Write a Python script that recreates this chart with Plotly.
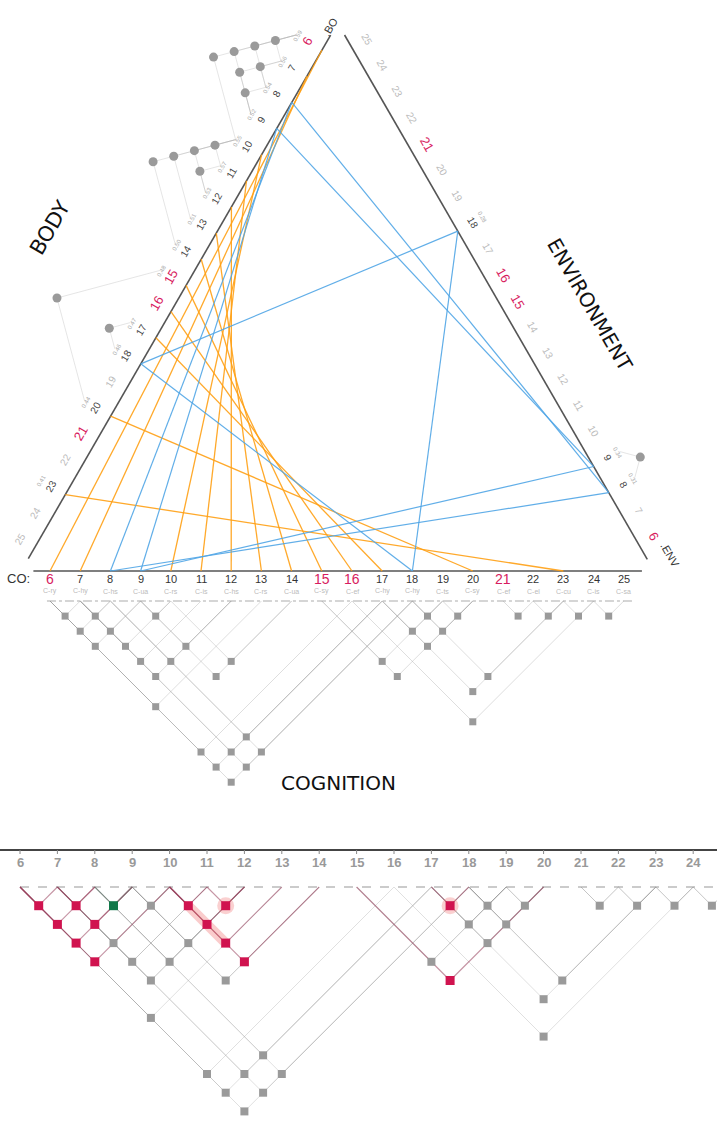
import math
import plotly.graph_objects as go

W, H = 717, 1124

# ---------------- data ----------------
AXIS_VALUES = list(range(6, 26))
RED_VALUES = [6, 15, 16, 21]
BODY_ACTIVE = [6, 7, 8, 9, 10, 11, 12, 13, 14, 15, 17, 18, 20, 23]
ENV_ACTIVE = [8, 9, 18]
CO_CODES = ["C-ry", "C-hy", "C-hs", "C-ua", "C-rs", "C-is", "C-hs", "C-rs", "C-ua", "C-sy",
            "C-ef", "C-hy", "C-hy", "C-ts", "C-sy", "C-ef", "C-el", "C-cu", "C-is", "C-sa"]
BODY_SCORES = ["0.59", "0.56", "0.54", "0.52", "0.55", "0.57", "0.53", "0.51", "0.50", "0.48",
               "0.47", "0.46", "0.44", "0.41"]
ENV_SCORES = ["0.31", "0.34", "0.28"]

ORANGE_LINKS = [6, 7, 10, 11, 12, 13, 14, 15, 16, 17, 20, 23]   # BODY v <-> CO v
BLUE_TRIADS = [8, 9, 18]                                         # BODY v, ENV v, CO v

BODY_NODES = [(6, 7), (7, 8), (8, 9), (10, 11), (11, 12), (17, 18), (6, 8), (7, 9), (10, 12),
              (6, 9), (10, 13), (6, 10), (10, 14), (15, 20)]
ENV_NODES = [(8, 9)]
CO_NODES = [(6, 7), (7, 8), (9, 10), (18, 19), (19, 20), (21, 22), (22, 23), (23, 24), (24, 25),
            (6, 8), (7, 9), (17, 19), (18, 20),
            (6, 9), (7, 10), (9, 12), (17, 20),
            (7, 11), (8, 12), (10, 14), (15, 19),
            (7, 12), (9, 14), (15, 20), (18, 23),
            (17, 23), (6, 13), (16, 24), (8, 17),
            (6, 16), (7, 17), (8, 18), (6, 17), (7, 18), (6, 18)]

BOTTOM_TICKS = list(range(6, 25))
BOTTOM_BASE = list(range(6, 26))
BOTTOM_NODES = [(6, 7), (7, 8), (8, 9), (9, 10), (10, 11), (11, 12), (17, 18), (18, 19), (19, 20),
                (21, 22), (22, 23), (23, 24), (24, 25),
                (6, 8), (7, 9), (10, 12), (17, 19), (18, 20),
                (6, 9), (7, 10), (9, 12), (10, 13), (17, 20),
                (6, 10), (7, 11), (8, 12), (10, 14), (15, 19),
                (7, 12), (9, 14), (15, 20), (18, 23),
                (17, 23), (6, 13), (16, 24), (8, 17),
                (6, 16), (7, 17), (8, 18), (6, 17), (7, 18), (6, 18)]
BOTTOM_RED = [(6, 7), (7, 8), (10, 11), (11, 12), (17, 18), (6, 8), (7, 9), (10, 12),
              (6, 9), (10, 13), (6, 10), (10, 14), (15, 20)]
BOTTOM_GREEN = [(8, 9)]
BOTTOM_GLOW_BAND = [(10, 11), (10, 13)]
BOTTOM_GLOW_NODES = [(11, 12), (17, 18)]

# ---------------- geometry ----------------
SP = 30.2
S3 = math.sqrt(3) / 2
UB, NB = (-0.5, S3), (-S3, -0.5)
UE, NE = (-0.5, -S3), (S3, -0.5)
BODY0, ENV0, CO_Y, CO_X0 = (322, 50), (639, 545), 571, 50


def body_pt(v, out=0.0):
    d = (v - 6) * SP
    return (BODY0[0] + d * UB[0] + out * NB[0], BODY0[1] + d * UB[1] + out * NB[1])


def env_pt(v, out=0.0):
    d = (v - 6) * SP
    return (ENV0[0] + d * UE[0] + out * NE[0], ENV0[1] + d * UE[1] + out * NE[1])


def co_pt(v, out=0.0):
    return (CO_X0 + (v - 6) * SP, CO_Y + out)


LAT_BASE, LAT_STEP = 30.0, SP / 2
BX0, BSP, BY0, BSTEP = 20, 37.4, 887, 18.7
AXIS_Y = 850


def bpt(m, level):
    return (BX0 + (m - 6) * BSP, BY0 + level * BSTEP)


fig = go.Figure()


def add_lines(segs, color, width, dash=None):
    xs, ys = [], []
    for a, b in segs:
        xs += [a[0], b[0], None]
        ys += [a[1], b[1], None]
    fig.add_trace(go.Scatter(x=xs, y=ys, mode="lines", hoverinfo="skip", showlegend=False,
                             line=dict(color=color, width=width, dash=dash)))


def add_markers(pts, color, size, symbol="circle", line=None):
    fig.add_trace(go.Scatter(x=[p[0] for p in pts], y=[p[1] for p in pts], mode="markers",
                             hoverinfo="skip", showlegend=False,
                             marker=dict(color=color, size=size, symbol=symbol,
                                         line=line or dict(width=0))))


def lattice_segments(nodes, fn):
    segs = []
    for i, j in nodes:
        lvl = j - i
        node = fn((i + j) / 2, LAT_BASE + LAT_STEP * lvl)
        segs.append((node, fn(i, LAT_BASE)))
        segs.append((node, fn(j, LAT_BASE)))
    return segs


# ---------- top lattices (behind) ----------
add_lines(lattice_segments(BODY_NODES, body_pt), "rgba(170,170,170,0.3)", 1)
add_lines(lattice_segments(ENV_NODES, env_pt), "rgba(170,170,170,0.3)", 1)
add_lines(lattice_segments(CO_NODES, co_pt), "rgba(160,160,160,0.35)", 1)
add_lines([(co_pt(5.9, LAT_BASE), co_pt(25.3, LAT_BASE))], "rgba(150,150,150,0.8)", 1, "dashdot")
add_markers([co_pt(v, LAT_BASE) for v in AXIS_VALUES], "rgba(0,0,0,0)", 5, "circle-open",
            dict(color="#aaa", width=1))

# ---------- triangle axes ----------
add_lines([(body_pt(5.43), body_pt(25.45)), (env_pt(5.45), env_pt(25.5)),
           (co_pt(5.45), co_pt(25.6))], "#555", 1.6)

# ---------- connection lines ----------
orange = [(body_pt(v), co_pt(v)) for v in ORANGE_LINKS]
add_lines(orange, "rgba(255,160,20,0.9)", 1.3)
blue = []
for v in BLUE_TRIADS:
    blue += [(body_pt(v), co_pt(v)), (body_pt(v), env_pt(v)), (env_pt(v), co_pt(v))]
add_lines(blue, "rgba(80,165,230,0.9)", 1.2)

# ---------- top lattice nodes ----------
add_markers([body_pt((i + j) / 2, LAT_BASE + LAT_STEP * (j - i)) for i, j in BODY_NODES], "#9a9a9a", 9)
add_markers([env_pt((i + j) / 2, LAT_BASE + LAT_STEP * (j - i)) for i, j in ENV_NODES], "#9a9a9a", 9)
add_markers([co_pt((i + j) / 2, LAT_BASE + LAT_STEP * (j - i)) for i, j in CO_NODES], "#9a9a9a", 7,
            "square")

# ---------- bottom chart ----------
add_lines([((0, AXIS_Y), (W, AXIS_Y))], "#444", 2)
add_lines([((bpt(v, 0)[0], AXIS_Y), (bpt(v, 0)[0], AXIS_Y + 4)) for v in BOTTOM_TICKS], "#888", 1)
add_lines([((BX0, BY0), (W, BY0))], "rgba(140,140,140,0.9)", 1, "dash")

near_segs, far_segs, red_segs, green_segs = [], [], [], []
for i, j in BOTTOM_NODES:
    lvl = j - i
    node = bpt((i + j) / 2, lvl)
    segs = [(node, bpt(i, 0)), (node, bpt(j, 0))]
    if (i, j) in BOTTOM_RED:
        red_segs += segs
    elif (i, j) in BOTTOM_GREEN:
        green_segs += segs
    elif lvl <= 5:
        near_segs += segs
    else:
        far_segs += segs
add_lines(far_segs, "rgba(160,160,160,0.32)", 1)
add_lines(near_segs, "rgba(140,140,140,0.5)", 1)
add_lines(red_segs, "rgba(150,60,90,0.55)", 1.1)
add_lines(green_segs, "rgba(90,110,100,0.6)", 1.1)

# glow
ga, gb = BOTTOM_GLOW_BAND
add_lines([(bpt((ga[0] + ga[1]) / 2, ga[1] - ga[0]), bpt((gb[0] + gb[1]) / 2, gb[1] - gb[0]))],
          "rgba(240,110,110,0.35)", 10)
add_markers([bpt((i + j) / 2, j - i) for i, j in BOTTOM_GLOW_NODES], "rgba(240,120,120,0.35)", 17)

add_markers([bpt(v, 0) for v in BOTTOM_BASE], "rgba(0,0,0,0)", 5, "circle-open",
            dict(color="#aaa", width=1))
gray_nodes = [n for n in BOTTOM_NODES if n not in BOTTOM_RED and n not in BOTTOM_GREEN]
add_markers([bpt((i + j) / 2, j - i) for i, j in gray_nodes], "#9a9a9a", 8, "square")
add_markers([bpt((i + j) / 2, j - i) for i, j in BOTTOM_RED], "#d0134f", 9, "square")
add_markers([bpt((i + j) / 2, j - i) for i, j in BOTTOM_GREEN], "#13784a", 9, "square")

# ---------- text ----------
ann = []
RED = "#d81b60"


def txt(x, y, t, size, color, angle=0, family="Liberation Sans"):
    ann.append(dict(x=x, y=y, xref="x", yref="y", text=t, showarrow=False, textangle=angle,
                    font=dict(size=size, color=color, family=family)))


for k, v in enumerate(AXIS_VALUES):
    red = v in RED_VALUES
    # CO
    x, y = co_pt(v, 8)
    txt(x, y, str(v), 14 if red else 11, RED if red else "#333")
    txt(x, y + 12, CO_CODES[k], 7, "#bbb")
    # BODY
    x, y = body_pt(v, 17)
    col = RED if red else ("#444" if v in BODY_ACTIVE else "#bbb")
    txt(x, y, str(v), 13 if red else 10, col, -60)
    # ENV
    x, y = env_pt(v, 17)
    col = RED if red else ("#444" if v in ENV_ACTIVE else "#bbb")
    txt(x, y, str(v), 13 if red else 10, col, 60)

for v, s in zip(BODY_ACTIVE, BODY_SCORES):
    x, y = body_pt(v, 28)
    txt(x, y, s, 6, "#aaa", -60)
for v, s in zip(ENV_ACTIVE, ENV_SCORES):
    x, y = env_pt(v, 28)
    txt(x, y, s, 6, "#aaa", 60)

for v in BOTTOM_TICKS:
    x, _ = bpt(v, 0)
    txt(x, 862, f"<b>{v}</b>", 13, "#999")

txt(18, 578, "CO:", 13, "#333")
x, y = body_pt(5.2, 5)
txt(x, y, ".BO", 11, "#333", -60)
x, y = env_pt(5.2, 22)
txt(x, y, ".ENV", 11, "#333", 60)
txt(50, 228, "BODY", 21, "#111", -60, "DejaVu Sans")
txt(590, 305, "ENVIRONMENT", 20, "#111", 60, "DejaVu Sans")
txt(338, 783, "COGNITION", 20, "#111", 0, "DejaVu Sans")

fig.update_layout(
    width=W, height=H, autosize=False,
    margin=dict(l=0, r=0, t=0, b=0),
    paper_bgcolor="white", plot_bgcolor="white",
    xaxis=dict(range=[0, W], visible=False, fixedrange=True),
    yaxis=dict(range=[H, 0], visible=False, fixedrange=True),
    annotations=ann, showlegend=False,
)

fig.write_html("out.html", config={"displayModeBar": False},
               post_script="document.body.style.margin='0';document.body.style.overflow='hidden';")
